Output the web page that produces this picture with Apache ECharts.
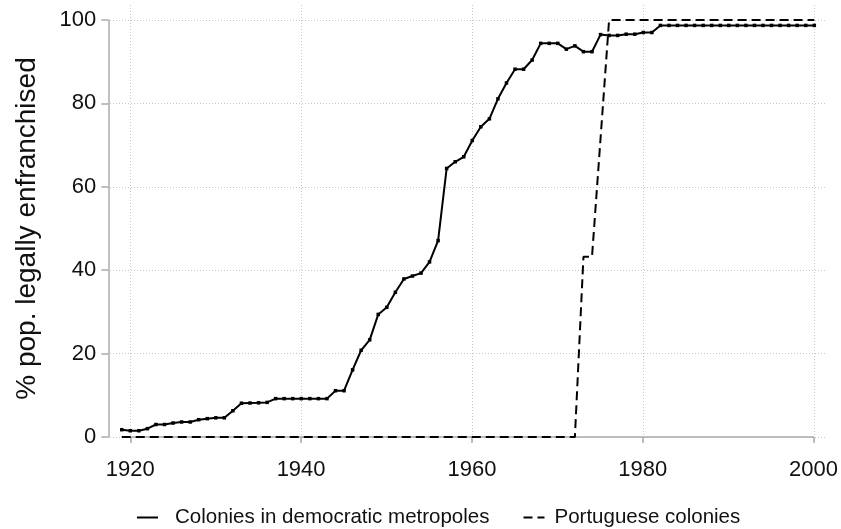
<!DOCTYPE html>
<html>
<head>
<meta charset="utf-8">
<script src="https://cdn.jsdelivr.net/npm/echarts@6/dist/echarts.min.js"></script>
<style>html,body{margin:0;padding:0;background:#fff}#c{width:841px;height:529px}</style>
</head>
<body>
<div id="c"></div>
<script>
// ---------------- DATA ----------------
const years = [1919,1920,1921,1922,1923,1924,1925,1926,1927,1928,1929,1930,1931,1932,1933,1934,1935,1936,1937,1938,1939,1940,1941,1942,1943,1944,1945,1946,1947,1948,1949,1950,1951,1952,1953,1954,1955,1956,1957,1958,1959,1960,1961,1962,1963,1964,1965,1966,1967,1968,1969,1970,1971,1972,1973,1974,1975,1976,1977,1978,1979,1980,1981,1982,1983,1984,1985,1986,1987,1988,1989,1990,1991,1992,1993,1994,1995,1996,1997,1998,1999,2000];
const democraticMetropoles = [1.75,1.5,1.5,2.0,3.0,3.0,3.35,3.6,3.6,4.15,4.4,4.6,4.6,6.3,8.1,8.15,8.2,8.3,9.2,9.2,9.2,9.2,9.2,9.2,9.2,11.1,11.1,16.1,20.8,23.3,29.4,31.1,34.7,37.9,38.6,39.3,42.0,47.1,64.4,66.0,67.2,71.1,74.4,76.3,81.1,84.9,88.2,88.2,90.4,94.4,94.4,94.4,93.0,93.8,92.4,92.4,96.5,96.3,96.3,96.6,96.6,97.0,97.0,98.7,98.7,98.7,98.7,98.7,98.7,98.7,98.7,98.7,98.7,98.7,98.7,98.7,98.7,98.7,98.7,98.7,98.7,98.7];
const portugueseYears = [1919,1972,1973,1974,1976,2000];
const portugueseValues = [0,0,43.2,43.2,100,100];
const xTicks = [1920,1940,1960,1980,2000];
const yTicks = [0,20,40,60,80,100];
const seriesNames = ['Colonies in democratic metropoles','Portuguese colonies'];
const yTitle = '% pop. legally enfranchised';

// ---------------- LAYOUT ----------------
const W = 841, H = 529;
const FONT = "'Liberation Sans', Arial, Helvetica, sans-serif";
const ax = {l:130.3, r:814.3, t:20, b:437};   // axis frame (first/last ticks)
const pr = {l:110, r:827, t:5, b:442};        // plot region (gridline extent)
const xLo = xTicks[0], xHi = xTicks[xTicks.length-1];
const yLo = yTicks[0], yHi = yTicks[yTicks.length-1];
const pxX = (ax.r-ax.l)/(xHi-xLo), pxY = (ax.b-ax.t)/(yHi-yLo);
const pMinX = xLo-(ax.l-pr.l)/pxX, pMaxX = xHi+(pr.r-ax.r)/pxX;
const pMinY = yLo-(pr.b-ax.b)/pxY, pMaxY = yHi+(ax.t-pr.t)/pxY;

const gridStyle = {color:'#c9c9c9', width:1, type:[1,2]};
const axisGray = '#ababab';

const chart = echarts.init(document.getElementById('c'), null, {renderer:'canvas'});
chart.setOption({
  animation:false,
  backgroundColor:'#fff',
  textStyle:{fontFamily:FONT},
  grid:[
    {left:pr.l, right:W-pr.r, top:pr.t, bottom:H-pr.b, containLabel:false},
    {left:ax.l, right:W-ax.r, top:ax.t, bottom:H-ax.b, containLabel:false}
  ],
  xAxis:[
    {gridIndex:0, type:'value', min:pMinX, max:pMaxX,
      axisLine:{show:false}, axisLabel:{show:false},
      axisTick:{show:false, customValues:xTicks},
      splitLine:{show:true, lineStyle:gridStyle}},
    {gridIndex:1, type:'value', min:xLo, max:xHi, interval:20, offset:12.5,
      axisLine:{show:true, lineStyle:{color:axisGray, width:1.5}},
      axisTick:{show:true, length:6, inside:false, lineStyle:{color:axisGray, width:1.5}},
      axisLabel:{show:true, margin:9, color:'#111', fontSize:22, fontFamily:FONT,
        formatter:(v)=>String(v)},
      splitLine:{show:false}}
  ],
  yAxis:[
    {gridIndex:0, type:'value', min:pMinY, max:pMaxY,
      axisLine:{show:false}, axisLabel:{show:false},
      axisTick:{show:false, customValues:yTicks},
      splitLine:{show:true, lineStyle:gridStyle}},
    {gridIndex:1, type:'value', min:yLo, max:yHi, interval:20, offset:22,
      axisLine:{show:true, lineStyle:{color:axisGray, width:1.5}},
      axisTick:{show:true, length:7, lineStyle:{color:axisGray, width:1.5}},
      axisLabel:{show:true, margin:12, color:'#111', fontSize:22, fontFamily:FONT},
      splitLine:{show:false},
      name:yTitle, nameLocation:'middle', nameRotate:90, nameGap:67,
      nameTextStyle:{fontSize:28, color:'#111', fontFamily:FONT}}
  ],
  legend:{
    left:136, top:507, padding:0, itemGap:33, itemWidth:21, itemHeight:14,
    itemStyle:{opacity:0},
    textStyle:{fontSize:20.5, color:'#111', fontFamily:FONT},
    data:[
      {name:seriesNames[0], textStyle:{padding:[0,0,0,12]}},
      {name:seriesNames[1], textStyle:{padding:[0,0,0,5]}}
    ]
  },
  series:[
    {name:seriesNames[0], type:'line', xAxisIndex:0, yAxisIndex:0,
      data:years.map((y,i)=>[y, democraticMetropoles[i]]),
      symbol:'rect', symbolSize:3.5, showSymbol:true,
      itemStyle:{color:'#000'}, lineStyle:{color:'#000', width:2},
      emphasis:{disabled:true}},
    {name:seriesNames[1], type:'line', xAxisIndex:0, yAxisIndex:0,
      data:portugueseYears.map((y,i)=>[y, portugueseValues[i]]),
      symbol:'none', showSymbol:false,
      itemStyle:{color:'#000'}, lineStyle:{color:'#000', width:2, type:[9,5]},
      emphasis:{disabled:true}}
  ]
});
</script>
</body>
</html>
